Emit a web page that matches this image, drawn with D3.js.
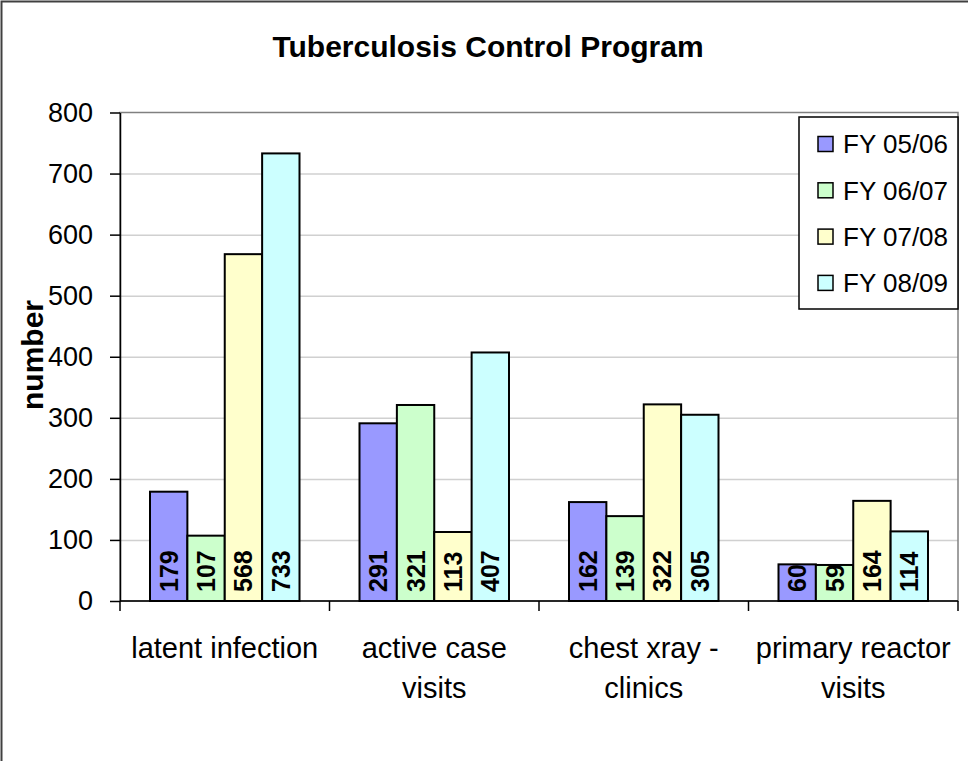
<!DOCTYPE html>
<html>
<head>
<meta charset="utf-8">
<script src="https://cdn.jsdelivr.net/npm/d3@7"></script>
<style>
  body { margin: 0; background: #fff; }
  svg { display: block; font-family: "Liberation Sans", Arial, sans-serif; }
</style>
</head>
<body>
<svg id="chart" width="968" height="761"></svg>
<script>
/////////////////////////////////////////////////
// data
var categories = ["latent infection", "active case visits", "chest xray - clinics", "primary reactor visits"];
var categoryLines = [["latent infection"], ["active case", "visits"], ["chest xray -", "clinics"], ["primary reactor", "visits"]];
var seriesNames = ["FY 05/06", "FY 06/07", "FY 07/08", "FY 08/09"];
var fy0506 = [179, 291, 162, 60];
var fy0607 = [107, 321, 139, 59];
var fy0708 = [568, 113, 322, 164];
var fy0809 = [733, 407, 305, 114];
var seriesColors = ["#9999ff", "#ccffcc", "#ffffcc", "#ccffff"];
var yTicks = [0, 100, 200, 300, 400, 500, 600, 700, 800];

var seriesValues = [fy0506, fy0607, fy0708, fy0809];

/////////////////////////////////////////////////
var svg = d3.select("#chart");
var plotLeft = 120, plotRight = 958, plotTop = 112.5, plotBottom = 601;

// outer chart frame
svg.append("rect")
  .attr("x", 1.5)
  .attr("y", 1.5)
  .attr("width", 1000)
  .attr("height", 1000)
  .attr("fill", "#fff")
  .attr("stroke", "#404040")
  .attr("stroke-width", 2);

var x = d3.scaleBand()
  .domain(categories)
  .range([plotLeft, plotRight]);

var xs = d3.scaleBand()
  .domain(seriesNames)
  .range([30, x.bandwidth() - 30]);

var y = d3.scaleLinear()
  .domain([0, 800])
  .range([plotBottom, plotTop]);

// gridlines
svg.append("g")
  .attr("transform", "translate(" + plotLeft + ",0)")
  .call(d3.axisLeft(y).tickValues(yTicks.slice(1, -1)).tickSize(-(plotRight - plotLeft)).tickFormat(""))
  .call(function(g) {
    g.select(".domain").remove();
    g.selectAll("line").attr("stroke", "#d0d0d0").attr("stroke-width", 1.5);
  });

// plot area border
svg.append("rect")
  .attr("x", plotLeft)
  .attr("y", plotTop)
  .attr("width", plotRight - plotLeft)
  .attr("height", plotBottom - plotTop)
  .attr("fill", "none")
  .attr("stroke", "#808080")
  .attr("stroke-width", 1.5);

// bars
var bars = [];
categories.forEach(function(c, ci) {
  seriesNames.forEach(function(s, si) {
    bars.push({cat: c, series: s, value: seriesValues[si][ci], color: seriesColors[si]});
  });
});

svg.append("g").selectAll("rect")
  .data(bars)
  .join("rect")
    .attr("x", function(d) { return x(d.cat) + xs(d.series); })
    .attr("y", function(d) { return y(d.value); })
    .attr("width", xs.bandwidth())
    .attr("height", function(d) { return y(0) - y(d.value); })
    .attr("fill", function(d) { return d.color; })
    .attr("stroke", "#000")
    .attr("stroke-width", 2);

// bar value labels
svg.append("g").selectAll("text")
  .data(bars)
  .join("text")
    .attr("transform", function(d) {
      return "translate(" + (x(d.cat) + xs(d.series) + xs.bandwidth() / 2) + "," + (y(0) - 9) + ") rotate(-90)";
    })
    .attr("dy", "0.36em")
    .style("font-size", "25px")
    .style("font-weight", "bold")
    .text(function(d) { return d.value; });

// y axis
svg.append("g")
  .attr("transform", "translate(" + plotLeft + ",0)")
  .call(d3.axisLeft(y).tickValues(yTicks).tickSize(10).tickSizeOuter(0).tickPadding(17))
  .call(function(g) {
    g.select(".domain").attr("stroke", "#000").attr("stroke-width", 1.5);
    g.selectAll("line").attr("stroke", "#000").attr("stroke-width", 1.5);
    g.selectAll("text")
      .style("font-family", "Liberation Sans, Arial, sans-serif")
      .style("font-size", "27px")
      .attr("fill", "#000");
  });

// x axis line and boundary ticks
svg.append("line")
  .attr("x1", plotLeft)
  .attr("x2", plotRight)
  .attr("y1", plotBottom)
  .attr("y2", plotBottom)
  .attr("stroke", "#000")
  .attr("stroke-width", 1.5);

var bounds = categories.map(function(c) { return x(c); }).concat([plotRight]);
svg.append("g").selectAll("line")
  .data(bounds)
  .join("line")
    .attr("x1", function(d) { return d; })
    .attr("x2", function(d) { return d; })
    .attr("y1", plotBottom)
    .attr("y2", plotBottom + 10)
    .attr("stroke", "#000")
    .attr("stroke-width", 1.5);

// category labels
var catLabel = svg.append("g").selectAll("text")
  .data(categories)
  .join("text")
    .attr("x", function(d) { return x(d) + x.bandwidth() / 2; })
    .attr("y", 658)
    .attr("text-anchor", "middle")
    .style("font-size", "29px");
catLabel.selectAll("tspan")
  .data(function(d, i) { return categoryLines[i]; })
  .join("tspan")
    .attr("x", function() { return this.parentNode.getAttribute("x"); })
    .attr("dy", function(d, i) { return i ? 40 : 0; })
    .text(function(d) { return d; });

// title
svg.append("text")
  .attr("x", 488)
  .attr("y", 57)
  .attr("text-anchor", "middle")
  .style("font-size", "30px")
  .style("font-weight", "bold")
  .text("Tuberculosis Control Program");

// y axis title
svg.append("text")
  .attr("transform", "translate(43,355) rotate(-90)")
  .attr("text-anchor", "middle")
  .style("font-size", "30px")
  .style("font-weight", "bold")
  .text("number");

// legend
var legend = svg.append("g");
legend.append("rect")
  .attr("x", 799)
  .attr("y", 117)
  .attr("width", 159)
  .attr("height", 192)
  .attr("fill", "#fff")
  .attr("stroke", "#000")
  .attr("stroke-width", 1.5);

var item = legend.selectAll("g.item")
  .data(seriesNames)
  .join("g")
    .attr("class", "item")
    .attr("transform", function(d, i) { return "translate(818," + (144 + i * 46.3) + ")"; });
item.append("rect")
  .attr("x", 0)
  .attr("y", -7.5)
  .attr("width", 15)
  .attr("height", 15)
  .attr("fill", function(d, i) { return seriesColors[i]; })
  .attr("stroke", "#000")
  .attr("stroke-width", 1.5);
item.append("text")
  .attr("x", 25)
  .attr("dy", "0.36em")
  .style("font-size", "26px")
  .text(function(d) { return d; });
</script>
</body>
</html>
